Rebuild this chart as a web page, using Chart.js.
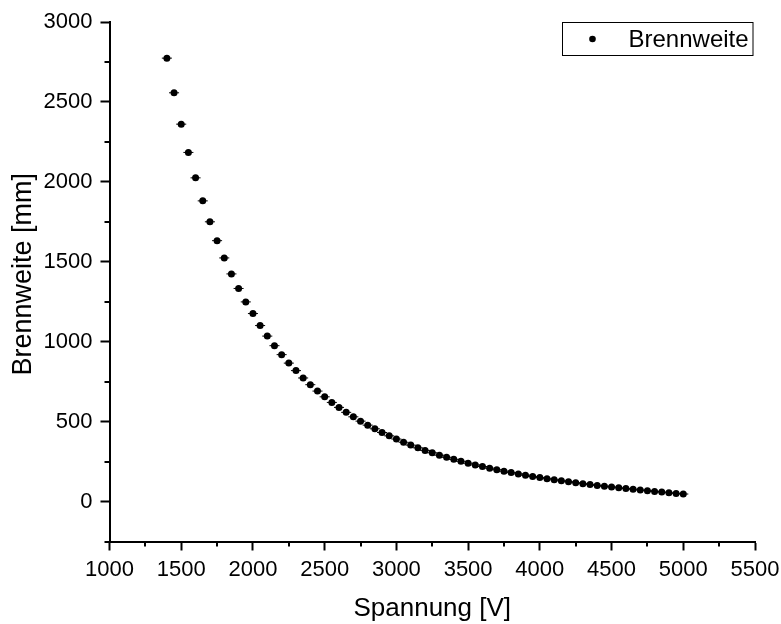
<!DOCTYPE html>
<html>
<head>
<meta charset="utf-8">
<script src="https://cdn.jsdelivr.net/npm/chart.js@4.4.1/dist/chart.umd.min.js"></script>
<style>
  html, body { margin: 0; padding: 0; background: #fff; }
  canvas { display: block; }
</style>
</head>
<body>
<canvas id="focusChart" width="781" height="624"></canvas>
<script>
// Spannung [V] und gemessene Brennweite [mm]
const spannung = [
  1400, 1450, 1500, 1550, 1600, 1650, 1700, 1750, 1800, 1850,
  1900, 1950, 2000, 2050, 2100, 2150, 2200, 2250, 2300, 2350,
  2400, 2450, 2500, 2550, 2600, 2650, 2700, 2750, 2800, 2850,
  2900, 2950, 3000, 3050, 3100, 3150, 3200, 3250, 3300, 3350,
  3400, 3450, 3500, 3550, 3600, 3650, 3700, 3750, 3800, 3850,
  3900, 3950, 4000, 4050, 4100, 4150, 4200, 4250, 4300, 4350,
  4400, 4450, 4500, 4550, 4600, 4650, 4700, 4750, 4800, 4850,
  4900, 4950, 5000
];
const brennweite = [
  2774, 2557, 2361, 2184, 2025, 1881, 1750, 1632, 1524, 1424,
  1333, 1249, 1176, 1101, 1035, 975, 919, 866, 819, 773,
  731, 691, 655, 620, 589, 558, 530, 503, 478, 455,
  432, 411, 391, 371, 353, 336, 320, 305, 290, 277,
  264, 252, 240, 229, 219, 209, 199, 190, 181, 173,
  165, 157, 150, 143, 136, 130, 124, 118, 112, 106,
  101, 96, 91, 86, 81, 77, 72, 68, 63, 59,
  55, 51, 47
];
// Fehler der Spannung (x-Fehlerbalken)
const spannungFehler = 35;

const xTicks = [1000, 1500, 2000, 2500, 3000, 3500, 4000, 4500, 5000, 5500];
const yTicks = [0, 500, 1000, 1500, 2000, 2500, 3000];

const FONT = 'Arial, "Liberation Sans", sans-serif';

// Kleine Zwischenstriche, Fehlerbalken und Legende mit Rahmen
const extrasPlugin = {
  id: 'extras',
  beforeDatasetsDraw(chart) {
    const ctx = chart.ctx;
    const xs = chart.scales.x;
    const ys = chart.scales.y;
    ctx.save();
    ctx.strokeStyle = '#000';
    ctx.lineWidth = 1;
    spannung.forEach((u, i) => {
      const y = ys.getPixelForValue(brennweite[i]);
      ctx.beginPath();
      ctx.moveTo(xs.getPixelForValue(u - spannungFehler), y);
      ctx.lineTo(xs.getPixelForValue(u + spannungFehler), y);
      ctx.stroke();
    });
    ctx.restore();
  },
  afterDraw(chart) {
    const ctx = chart.ctx;
    const xs = chart.scales.x;
    const ys = chart.scales.y;
    const area = chart.chartArea;
    ctx.save();
    ctx.strokeStyle = '#000';
    ctx.lineWidth = 2;
    // minor ticks x
    for (let i = 0; i < xTicks.length - 1; i++) {
      const px = Math.round(xs.getPixelForValue((xTicks[i] + xTicks[i + 1]) / 2));
      ctx.beginPath();
      ctx.moveTo(px, area.bottom);
      ctx.lineTo(px, area.bottom + 5);
      ctx.stroke();
    }
    // minor ticks y
    const yMinor = [-250].concat(yTicks.slice(0, -1).map((v, i) => (v + yTicks[i + 1]) / 2));
    yMinor.forEach(v => {
      const py = Math.round(ys.getPixelForValue(v));
      ctx.beginPath();
      ctx.moveTo(area.left, py);
      ctx.lineTo(area.left - 5, py);
      ctx.stroke();
    });

    // Legende
    const ds = chart.data.datasets[0];
    const boxL = 562.5, boxT = 22.5, boxW = 190.5, boxH = 33;
    ctx.lineWidth = 1;
    ctx.strokeRect(boxL, boxT, boxW, boxH);
    ctx.fillStyle = '#000';
    ctx.beginPath();
    ctx.arc(boxL + 30, boxT + boxH / 2, 3.3, 0, Math.PI * 2);
    ctx.fill();
    ctx.font = '24px ' + FONT;
    ctx.textBaseline = 'middle';
    ctx.textAlign = 'left';
    ctx.fillText(ds.label, boxL + 66, boxT + boxH / 2 + 1);
    ctx.restore();
  }
};

const ctx = document.getElementById('focusChart');

new Chart(ctx, {
  type: 'scatter',
  data: {
    datasets: [{
      label: 'Brennweite',
      data: spannung.map((u, i) => ({ x: u, y: brennweite[i] })),
      pointRadius: 3.5,
      pointBackgroundColor: '#000',
      pointBorderColor: '#000',
      pointBorderWidth: 0,
      showLine: false
    }]
  },
  options: {
    responsive: false,
    animation: false,
    layout: { padding: { left: 0, right: 26, top: 22, bottom: 0 } },
    plugins: {
      legend: { display: false },
      tooltip: { enabled: false }
    },
    scales: {
      x: {
        type: 'linear',
        min: 1000,
        max: 5500,
        afterBuildTicks: scale => { scale.ticks = xTicks.map(v => ({ value: v })); },
        afterFit: scale => {
          scale.height = 82.5;
          scale.paddingLeft = 0;
          scale.paddingRight = 0;
        },
        ticks: {
          color: '#000',
          font: { family: FONT, size: 22 },
          padding: 6,
          maxRotation: 0,
          autoSkip: false,
          callback: v => String(v)
        },
        grid: {
          drawOnChartArea: false,
          drawTicks: true,
          tickLength: 9,
          tickWidth: 2,
          tickColor: '#000'
        },
        border: { display: true, color: '#000', width: 2 },
        title: {
          display: true,
          text: 'Spannung [V]',
          color: '#000',
          font: { family: FONT, size: 26 },
          padding: { top: 0, bottom: 0 }
        }
      },
      y: {
        type: 'linear',
        min: -250,
        max: 3000,
        afterBuildTicks: scale => { scale.ticks = yTicks.map(v => ({ value: v })); },
        afterFit: scale => {
          scale.width = 109.5;
          scale.paddingTop = 0;
          scale.paddingBottom = 0;
        },
        ticks: {
          color: '#000',
          font: { family: FONT, size: 22 },
          padding: 8,
          autoSkip: false,
          callback: v => String(v)
        },
        grid: {
          drawOnChartArea: false,
          drawTicks: true,
          tickLength: 9,
          tickWidth: 2,
          tickColor: '#000'
        },
        border: { display: true, color: '#000', width: 2 },
        title: {
          display: true,
          text: '  Brennweite [mm]',
          color: '#000',
          font: { family: FONT, size: 27 },
          padding: { top: 7, bottom: 0 }
        }
      }
    }
  },
  plugins: [extrasPlugin]
});
</script>
</body>
</html>
